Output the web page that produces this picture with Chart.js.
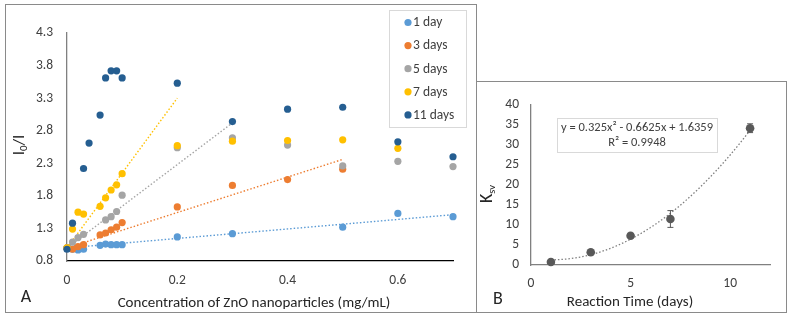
<!DOCTYPE html>
<html><head><meta charset="utf-8">
<script src="https://cdn.jsdelivr.net/npm/chart.js@4/dist/chart.umd.min.js"></script>
<style>
html,body{margin:0;padding:0;background:#fff;}
#wrap{position:relative;width:794px;height:319px;overflow:hidden;background:#fff;}
.frame{position:absolute;border:1px solid #8a8a8a;box-sizing:border-box;}
canvas{position:absolute;left:0;top:0;}
</style></head><body>
<div id="wrap">
<div class="frame" style="left:5px;top:4px;width:472px;height:309px"></div>
<div class="frame" style="left:476px;top:81px;width:311px;height:232px"></div>
<canvas id="cA" width="794" height="319" style="width:794px;height:319px"></canvas>
<canvas id="cB" width="794" height="319" style="width:794px;height:319px"></canvas>
</div>
<script>
// ---------- Panel A data ----------
const seriesLabels = ['1 day', '3 days', '5 days', '7 days', '11 days'];
const seriesColors = ['#5B9BD5', '#ED7D31', '#A5A5A5', '#FFC000', '#255E91'];

const conc1d  = [0, 0.01, 0.02, 0.03, 0.06, 0.07, 0.08, 0.09, 0.1, 0.2, 0.3, 0.5, 0.6, 0.7];
const ratio1d = [1.0, 0.98, 0.97, 0.98, 1.04, 1.06, 1.05, 1.05, 1.05, 1.17, 1.22, 1.32, 1.53, 1.48];

const conc3d  = [0, 0.01, 0.02, 0.03, 0.06, 0.07, 0.08, 0.09, 0.1, 0.2, 0.3, 0.4, 0.5];
const ratio3d = [1.0, 0.98, 1.02, 1.05, 1.2, 1.23, 1.28, 1.32, 1.39, 1.63, 1.96, 2.05, 2.21];

const conc5d  = [0, 0.01, 0.02, 0.03, 0.07, 0.08, 0.09, 0.1, 0.2, 0.3, 0.4, 0.5, 0.6, 0.7];
const ratio5d = [1.0, 1.09, 1.16, 1.21, 1.43, 1.48, 1.56, 1.81, 2.54, 2.69, 2.58, 2.26, 2.33, 2.25];

const conc7d  = [0, 0.01, 0.02, 0.03, 0.06, 0.07, 0.08, 0.09, 0.1, 0.2, 0.3, 0.4, 0.5, 0.6];
const ratio7d = [1.0, 1.29, 1.55, 1.52, 1.64, 1.77, 1.89, 1.97, 2.14, 2.57, 2.64, 2.65, 2.66, 2.53];

const conc11d  = [0, 0.01, 0.03, 0.04, 0.06, 0.07, 0.08, 0.09, 0.1, 0.2, 0.3, 0.4, 0.5, 0.6, 0.7];
const ratio11d = [0.98, 1.38, 2.22, 2.61, 3.04, 3.61, 3.72, 3.72, 3.61, 3.53, 2.94, 3.13, 3.16, 2.63, 2.40];

// linear trendlines (intercept 1): slope and last x
const trendSlope = [0.73, 2.72, 6.4, 11.5];
const trendEnd   = [0.7, 0.5, 0.3, 0.2];

const xTicksA = [0, 0.2, 0.4, 0.6];
const yTicksA = [0.8, 1.3, 1.8, 2.3, 2.8, 3.3, 3.8, 4.3];

// ---------- Panel B data ----------
const days   = [1, 3, 5, 7, 11];
const ksv    = [0.75, 3.2, 7.3, 11.5, 34.2];
const ksvErr = [0.2, 0.3, 0.4, 2.1, 1.1];
const fitCoef = [0.325, -0.6625, 1.6359];   // y = a x^2 + b x + c (from the label)
const xTicksB = [0, 5, 10];
const yTicksB = [0, 5, 10, 15, 20, 25, 30, 35, 40];

const FONT = 'Carlito, Lato, "Liberation Sans", sans-serif';
const TICK_COLOR = '#404040';

const concs = [conc1d, conc3d, conc5d, conc7d, conc11d];
const ratios = [ratio1d, ratio3d, ratio5d, ratio7d, ratio11d];

const datasetsA = [];
seriesLabels.forEach((lab, i) => {
  datasetsA.push({
    type: 'scatter', label: lab,
    data: concs[i].map((x, j) => ({x: x, y: ratios[i][j]})),
    backgroundColor: seriesColors[i], borderColor: seriesColors[i],
    pointRadius: 3.6, pointBorderWidth: 0, showLine: false,
    clip: false, order: 5 - i
  });
});
trendSlope.forEach((m, i) => {
  datasetsA.push({
    type: 'line', label: 'trend ' + seriesLabels[i],
    data: [{x: 0, y: 1}, {x: trendEnd[i], y: 1 + m * trendEnd[i]}],
    borderColor: seriesColors[i], borderWidth: 1.4, borderDash: [1.5, 2],
    pointRadius: 0, fill: false, clip: false, order: 10
  });
});

function drawRotated(ctx, x, y, parts) {
  ctx.save();
  ctx.translate(x, y);
  ctx.rotate(-Math.PI / 2);
  let total = 0;
  parts.forEach(p => { ctx.font = p.size + 'px ' + FONT; total += ctx.measureText(p.t).width; });
  let cx = -total / 2;
  ctx.textBaseline = 'middle';
  ctx.textAlign = 'left';
  parts.forEach(p => {
    ctx.font = p.size + 'px ' + FONT;
    ctx.fillText(p.t, cx, p.dy || 0);
    cx += ctx.measureText(p.t).width;
  });
  ctx.restore();
}

const decorA = {
  id: 'decorA',
  afterDraw(chart) {
    const ctx = chart.ctx;
    ctx.save();
    ctx.fillStyle = '#262626';
    ctx.textAlign = 'center';
    ctx.textBaseline = 'middle';
    ctx.font = '15px ' + FONT;
    ctx.fillText('Concentration of ZnO nanoparticles (mg/mL)', 254, 303);
    ctx.font = '18px ' + FONT;
    ctx.fillText('A', 26, 297);
    drawRotated(ctx, 20, 145, [{t: 'I', size: 17}, {t: '0', size: 11, dy: 4}, {t: '/I', size: 17}]);
    // legend box
    ctx.strokeStyle = '#d9d9d9';
    ctx.lineWidth = 1;
    ctx.strokeRect(389.5, 10.5, 77, 117);
    ctx.textAlign = 'left';
    ctx.font = '13.5px ' + FONT;
    seriesLabels.forEach((lab, i) => {
      const y = 22.5 + i * 23.1;
      ctx.fillStyle = seriesColors[i];
      ctx.beginPath(); ctx.arc(408, y, 3.6, 0, Math.PI * 2); ctx.fill();
      ctx.fillStyle = '#404040';
      ctx.fillText(lab, 413, y + 0.5);
    });
    ctx.restore();
  }
};

new Chart(document.getElementById('cA'), {
  data: {datasets: datasetsA},
  options: {
    responsive: false, animation: false,
    layout: {padding: {left: 0, top: 33, right: 341, bottom: 0}},
    plugins: {legend: {display: false}, tooltip: {enabled: false}},
    scales: {
      x: {
        type: 'linear', min: 0, max: 0.7,
        afterBuildTicks: s => { s.ticks = xTicksA.map(v => ({value: v})); },
        afterFit: s => { s.height = 58; },
        grid: {display: false, drawTicks: false},
        border: {display: true, color: '#000000', width: 1.3},
        ticks: {padding: 12, color: TICK_COLOR, font: {family: FONT, size: 13.5},
                callback: v => v === 0 ? '0' : v.toFixed(1)}
      },
      y: {
        type: 'linear', min: 0.8, max: 4.3,
        afterBuildTicks: s => { s.ticks = yTicksA.map(v => ({value: v})); },
        afterFit: s => { s.width = 67; },
        grid: {display: false, drawTicks: false},
        border: {display: true, color: '#808080', width: 1.3},
        ticks: {padding: 14, color: TICK_COLOR, font: {family: FONT, size: 13.5},
                callback: v => v.toFixed(1)}
      }
    }
  },
  plugins: [decorA]
});

// ---------- Panel B ----------
const fitX = [];
for (let x = 1; x <= 11.0001; x += 0.25) fitX.push(x);

const errorBars = {
  id: 'errorBars',
  afterDatasetsDraw(chart) {
    const ctx = chart.ctx, xs = chart.scales.x, ys = chart.scales.y;
    ctx.save();
    ctx.strokeStyle = '#595959';
    ctx.lineWidth = 1;
    days.forEach((d, i) => {
      const px = xs.getPixelForValue(d);
      const top = ys.getPixelForValue(ksv[i] + ksvErr[i]);
      const bot = ys.getPixelForValue(ksv[i] - ksvErr[i]);
      ctx.beginPath();
      ctx.moveTo(px, top); ctx.lineTo(px, bot);
      ctx.moveTo(px - 3, top); ctx.lineTo(px + 3, top);
      ctx.moveTo(px - 3, bot); ctx.lineTo(px + 3, bot);
      ctx.stroke();
    });
    ctx.restore();
  }
};

const decorB = {
  id: 'decorB',
  afterDraw(chart) {
    const ctx = chart.ctx;
    ctx.save();
    ctx.fillStyle = '#262626';
    ctx.textAlign = 'center';
    ctx.textBaseline = 'middle';
    ctx.font = '15px ' + FONT;
    ctx.fillText('Reaction Time (days)', 630, 302);
    ctx.font = '18px ' + FONT;
    ctx.fillText('B', 498, 299);
    drawRotated(ctx, 487, 194, [{t: 'K', size: 18}, {t: 'sv', size: 10.5, dy: 5}]);
    // equation box
    ctx.fillStyle = '#ffffff';
    ctx.fillRect(557, 118, 160, 34);
    ctx.strokeStyle = '#d9d9d9';
    ctx.lineWidth = 1;
    ctx.strokeRect(557.5, 118.5, 160, 34);
    ctx.fillStyle = '#404040';
    ctx.font = '12.5px ' + FONT;
    ctx.fillText('y = 0.325x\u00B2 - 0.6625x + 1.6359', 637, 128);
    ctx.fillText('R\u00B2 = 0.9948', 637, 143);
    ctx.restore();
  }
};

new Chart(document.getElementById('cB'), {
  data: {
    datasets: [
      {type: 'scatter', label: 'Ksv', data: days.map((d, i) => ({x: d, y: ksv[i]})),
       backgroundColor: '#595959', borderColor: '#595959', pointRadius: 4.3, pointBorderWidth: 0, clip: false, order: 1},
      {type: 'line', label: 'Poly. (Ksv)', data: fitX.map(x => ({x: x, y: fitCoef[0] * x * x + fitCoef[1] * x + fitCoef[2]})),
       borderColor: '#7f7f7f', borderWidth: 1.3, borderDash: [1.5, 2], pointRadius: 0, fill: false, tension: 0, clip: false, order: 2}
    ]
  },
  options: {
    responsive: false, animation: false,
    layout: {padding: {left: 476, top: 105, right: 24, bottom: 0}},
    plugins: {legend: {display: false}, tooltip: {enabled: false}},
    scales: {
      x: {
        type: 'linear', min: 0, max: 12,
        afterBuildTicks: s => { s.ticks = xTicksB.map(v => ({value: v})); },
        afterFit: s => { s.height = 54; },
        grid: {display: false, drawTicks: false},
        border: {display: true, color: '#808080', width: 1.3},
        ticks: {padding: 11, color: TICK_COLOR, font: {family: FONT, size: 13.5}}
      },
      y: {
        type: 'linear', min: 0, max: 40,
        afterBuildTicks: s => { s.ticks = yTicksB.map(v => ({value: v})); },
        afterFit: s => { s.width = 55; },
        grid: {display: false, drawTicks: false},
        border: {display: true, color: '#808080', width: 1.3},
        ticks: {padding: 12, color: TICK_COLOR, font: {family: FONT, size: 13.5}}
      }
    }
  },
  plugins: [errorBars, decorB]
});
</script>
</body></html>
